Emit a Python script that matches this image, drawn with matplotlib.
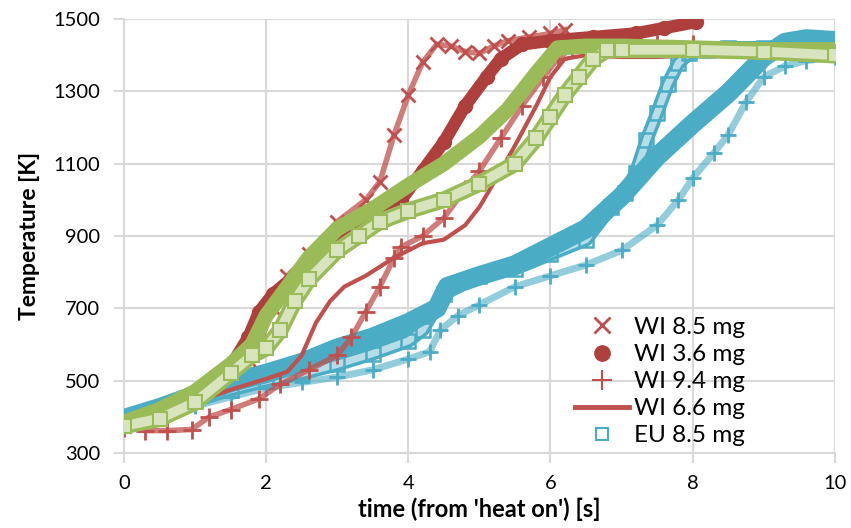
import matplotlib.pyplot as plt
from matplotlib.lines import Line2D

# colores tipo Excel
RED = '#C0504D'
DRED = '#AE3F3C'
BLUE = '#4BACC6'
GREEN = '#9BBB59'
LGREEN = '#D7E4BD'

# --- datos (t en s, T en K) ---
wi85_t = [0, 0.5, 1.0, 1.5, 1.75, 1.9, 2.1, 2.3, 2.6, 3.0, 3.4, 3.6, 3.8, 4.0, 4.2, 4.4, 4.6, 4.8, 5.0, 5.2, 5.4, 5.7, 6.0, 6.2]
wi85_T = [375, 400, 450, 520, 560, 600, 700, 790, 850, 940, 1000, 1050, 1180, 1290, 1380, 1430, 1425, 1410, 1405, 1425, 1440, 1450, 1460, 1470]

wi36_t = [0, 0.5, 1.0, 1.5, 1.75, 1.9, 2.1, 2.4, 2.8, 3.2, 3.6, 3.9, 4.2, 4.5, 4.8, 5.1, 5.3, 5.6, 6.0, 6.6, 7.2, 7.6, 8.05]
wi36_T = [380, 410, 460, 540, 620, 690, 740, 790, 850, 900, 960, 1000, 1080, 1160, 1260, 1340, 1390, 1430, 1440, 1450, 1460, 1475, 1492]

wi94_t = [0, 0.3, 0.6, 0.95, 1.2, 1.5, 1.9, 2.2, 2.6, 3.0, 3.2, 3.4, 3.6, 3.8, 3.9, 4.2, 4.5, 4.8, 5.0, 5.3, 5.6, 5.9, 6.1, 6.3, 6.6, 7.0, 7.5, 8.0]
wi94_T = [370, 362, 362, 365, 400, 420, 450, 490, 530, 570, 620, 690, 760, 840, 870, 900, 950, 1030, 1080, 1170, 1260, 1340, 1390, 1420, 1425, 1430, 1430, 1430]

wi66_t = [0, 0.5, 1.0, 1.5, 2.0, 2.3, 2.5, 2.7, 2.9, 3.1, 3.4, 3.8, 4.2, 4.5, 4.8, 5.0, 5.3, 5.5, 5.8, 6.0, 6.2, 6.5, 7.0, 7.5, 7.8]
wi66_T = [385, 405, 440, 475, 505, 525, 570, 660, 720, 760, 790, 840, 880, 890, 930, 980, 1080, 1150, 1260, 1340, 1390, 1400, 1395, 1395, 1398]

eu85_t = [0, 0.5, 1.0, 1.5, 2.0, 2.5, 3.0, 3.5, 4.0, 4.2, 4.5, 5.0, 5.5, 6.0, 6.5, 6.85, 7.05, 7.2, 7.35, 7.5, 7.65, 7.8, 7.95, 8.2, 8.5, 9.0, 9.5, 10.0]
eu85_T = [385, 415, 445, 475, 500, 520, 545, 575, 610, 640, 740, 790, 810, 850, 890, 980, 1020, 1074, 1165, 1240, 1320, 1378, 1405, 1415, 1420, 1420, 1420, 1410]

# series sin leyenda
eub_t = [0, 0.5, 1.0, 1.5, 2.0, 2.5, 3.0, 3.5, 4.0, 4.4, 4.55, 5.0, 5.5, 6.0, 6.5, 7.0, 7.5, 8.0, 8.5, 9.0, 9.3, 9.6, 10.0]
eub_T = [395, 425, 460, 495, 520, 550, 590, 620, 660, 700, 760, 790, 820, 870, 920, 1010, 1120, 1210, 1295, 1395, 1435, 1445, 1440]

eup_t = [0, 0.5, 1.0, 1.5, 2.0, 2.5, 3.0, 3.5, 4.0, 4.3, 4.45, 4.7, 5.0, 5.5, 6.0, 6.5, 7.0, 7.5, 7.8, 8.0, 8.3, 8.5, 8.75, 9.0, 9.3, 9.6, 10.0]
eup_T = [380, 405, 430, 455, 480, 495, 510, 530, 560, 580, 640, 680, 710, 760, 790, 820, 860, 930, 1000, 1060, 1130, 1180, 1270, 1340, 1370, 1385, 1395]

gs_t = [0, 0.5, 1.0, 1.5, 1.8, 2.0, 2.3, 2.6, 3.0, 3.5, 4.0, 4.5, 5.0, 5.4, 5.8, 6.1, 6.5, 7.0, 8.0, 9.0, 10.0]
gs_T = [385, 420, 470, 545, 600, 680, 760, 840, 920, 975, 1040, 1100, 1175, 1250, 1350, 1420, 1425, 1425, 1420, 1415, 1415]

gq_t = [0, 0.5, 1.0, 1.5, 1.8, 2.0, 2.2, 2.4, 2.6, 3.0, 3.3, 3.6, 4.0, 4.5, 5.0, 5.5, 5.8, 6.0, 6.2, 6.4, 6.6, 6.8, 7.0, 8.0, 9.0, 10.0]
gq_T = [375, 395, 440, 520, 570, 590, 640, 720, 780, 860, 900, 940, 970, 1000, 1045, 1100, 1170, 1230, 1290, 1340, 1390, 1415, 1415, 1415, 1410, 1400]

plt.rcParams['font.family'] = ['Lato', 'DejaVu Sans']
fig, ax = plt.subplots(figsize=(8.51, 5.28), dpi=100)
fig.subplots_adjust(left=0.1457, right=0.981, top=0.964, bottom=0.142)

# azules
ax.plot(eup_t, eup_T, color=BLUE, lw=5, alpha=0.6, zorder=2)
ax.plot(eup_t, eup_T, ls='none', marker='+', ms=12, mew=2, color=BLUE, zorder=2)
ax.plot(eu85_t, eu85_T, color=BLUE, lw=10, zorder=2)
ax.plot(eu85_t, eu85_T, color='white', lw=5, alpha=0.6, zorder=2)
ax.plot(eu85_t, eu85_T, ls='none', marker='s', ms=10, mfc='none', mec=BLUE, mew=1.8, zorder=2)
ax.plot(eub_t, eub_T, color=BLUE, lw=14, solid_capstyle='round', zorder=3)

# rojos
ax.plot(wi66_t, wi66_T, color=RED, lw=3, zorder=4)
ax.plot(wi94_t, wi94_T, color=RED, lw=4, alpha=0.75, zorder=4)
ax.plot(wi94_t, wi94_T, ls='none', marker='+', ms=13, mew=2, color=RED, zorder=4)
ax.plot(wi85_t, wi85_T, color=RED, lw=4, alpha=0.75, zorder=4)
ax.plot(wi85_t, wi85_T, ls='none', marker='x', ms=10, mew=2, color=RED, zorder=4)
ax.plot(wi36_t, wi36_T, color=DRED, lw=9, solid_capstyle='round', zorder=4)
ax.plot(wi36_t, wi36_T, ls='none', marker='o', ms=10, color=DRED, zorder=4)

# verdes
ax.plot(gs_t, gs_T, color=GREEN, lw=11, zorder=5)
ax.plot(gq_t, gq_T, color=GREEN, lw=12, zorder=5)
ax.plot(gq_t, gq_T, color=LGREEN, lw=7, zorder=5)
ax.plot(gq_t, gq_T, ls='none', marker='s', ms=10, mfc=LGREEN, mec=GREEN, mew=1.5, zorder=5)

ax.set_xlim(0, 10)
ax.set_ylim(300, 1500)
ax.set_xticks([0, 2, 4, 6, 8, 10])
ax.set_yticks(range(300, 1501, 200))
ax.grid(True, color='#D9D9D9', lw=1.5)
ax.set_axisbelow(True)
for s in ['top', 'right']:
    ax.spines[s].set_visible(False)
for s in ['left', 'bottom']:
    ax.spines[s].set_color('#D9D9D9')
    ax.spines[s].set_linewidth(1.5)
ax.tick_params(colors='#D9D9D9', labelcolor='black', labelsize=14.5, length=7, width=1.5)
ax.tick_params(axis='y', pad=10)
ax.tick_params(axis='x', pad=9)

ax.set_xlabel("time (from 'heat on') [s]", fontsize=17, fontweight='bold', labelpad=4)
ax.set_ylabel('Temperature [K]', fontsize=16.5, fontweight='bold', labelpad=10)

handles = [
    Line2D([], [], ls='none', marker='x', ms=11, mew=2, color=RED),
    Line2D([], [], ls='none', marker='o', ms=11, color=DRED),
    Line2D([], [], ls='none', marker='+', ms=14, mew=1.5, color=RED),
    Line2D([], [], color=RED, lw=3.5),
    Line2D([], [], ls='none', marker='s', ms=9, mfc='none', mec=BLUE, mew=1.5),
]
labels = ['WI 8.5 mg', 'WI 3.6 mg', 'WI 9.4 mg', 'WI 6.6 mg', 'EU 8.5 mg']
ax.legend(handles, labels, loc='lower right', bbox_to_anchor=(0.904, -0.035), frameon=False,
          fontsize=17.5, handlelength=2.2, handletextpad=0.2, labelspacing=0.25)

plt.savefig('out.png', dpi=100)
